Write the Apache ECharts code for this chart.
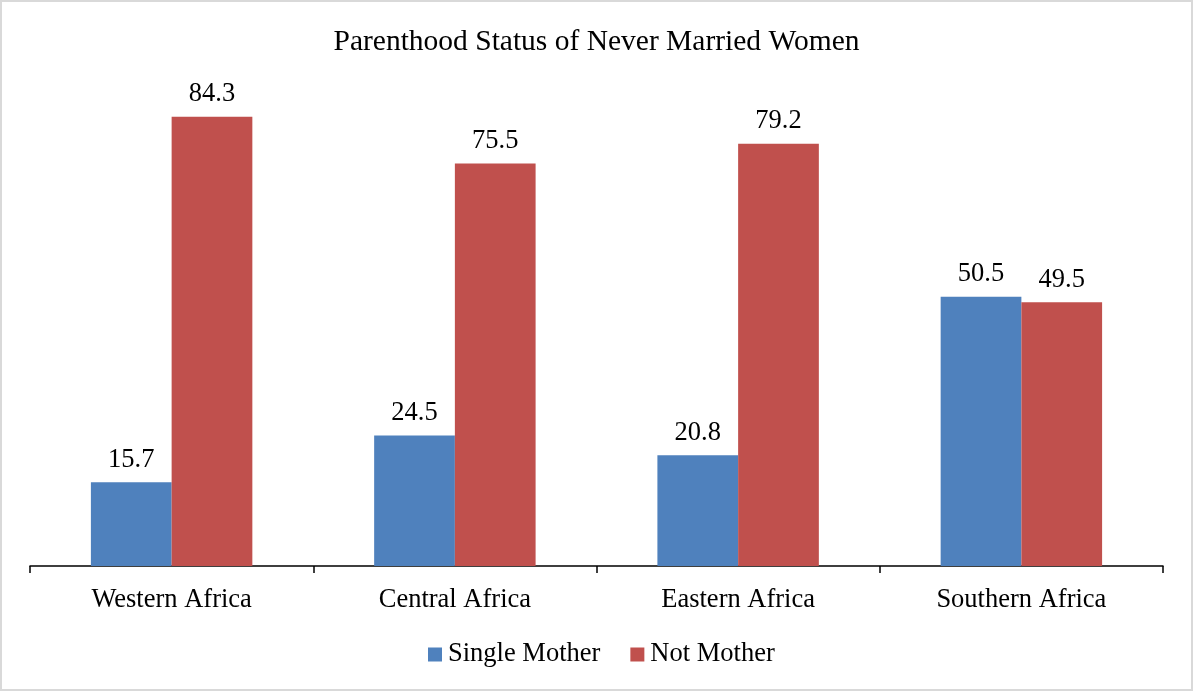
<!DOCTYPE html>
<html><head><meta charset="utf-8">
<script src="https://cdn.jsdelivr.net/npm/echarts@6/dist/echarts.min.js"></script>
<style>html,body{margin:0;padding:0;background:#fff}#c{width:1193px;height:691px}</style>
</head><body><div id="c"></div>
<script>
const categories = ['Western Africa', 'Central Africa', 'Eastern Africa', 'Southern Africa'];
const singleMother = [15.7, 24.5, 20.8, 50.5];
const notMother = [84.3, 75.5, 79.2, 49.5];
const seriesNames = ['Single Mother', 'Not Mother'];

const chart = echarts.init(document.getElementById('c'));
const serif = '"Liberation Serif", "Times New Roman", serif';
const lbl = {show: true, position: 'top', distance: 9, fontFamily: serif, fontSize: 26.5, color: '#000'};
chart.setOption({
  animation: false,
  backgroundColor: '#fff',
  title: {text: 'Parenthood Status of Never Married Women', left: 'center', top: 22,
    textStyle: {fontFamily: serif, fontSize: 29.5, fontWeight: 'normal', color: '#000'}},
  legend: {bottom: 18, left: 423, itemWidth: 14, itemHeight: 14, itemGap: 30,
    icon: 'rect', textStyle: {fontFamily: serif, fontSize: 26.5, color: '#000', padding: [0,0,0,1]},
    data: seriesNames},
  grid: {left: 30, right: 30, top: 33, bottom: 125},
  xAxis: {type: 'category', data: categories,
    axisLine: {lineStyle: {color: '#000', width: 1.5}},
    axisTick: {show: true, length: 7, lineStyle: {color: '#000', width: 1.5}},
    axisLabel: {margin: 21, fontFamily: serif, fontSize: 26.5, color: '#000'}},
  yAxis: {type: 'value', min: 0, max: 100, show: false, splitLine: {show: false}},
  series: [
    {name: seriesNames[0], type: 'bar', data: singleMother, barGap: '0%', barCategoryGap: '43%',
      itemStyle: {color: '#4F81BD'}, label: lbl},
    {name: seriesNames[1], type: 'bar', data: notMother,
      itemStyle: {color: '#C0504D'}, label: lbl}
  ],
  graphic: [{type: 'rect', shape: {x: 1, y: 1, width: 1191, height: 689},
    style: {fill: 'none', stroke: '#d9d9d9', lineWidth: 2}, silent: true}]
});
</script></body></html>
